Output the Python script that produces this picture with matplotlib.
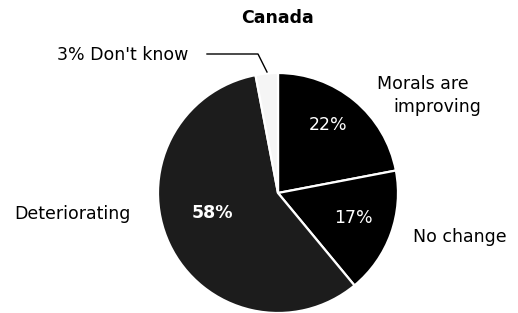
import matplotlib
matplotlib.use("Agg")
import matplotlib.pyplot as plt

# data (clockwise from 12 o'clock)
labels = ["Morals are\nimproving", "No change", "Deteriorating", "Don't know"]
values = [22, 17, 58, 3]
colors = ["#000000", "#000000", "#1c1c1c", "#f5f5f5"]

W, H = 518, 313
fig = plt.figure(figsize=(W / 100, H / 100), dpi=100)
ax = fig.add_axes([0, 0, 1, 1])

cx, cy, r = 278, H - 193, 120
wedges, _ = ax.pie(values, colors=colors, startangle=90, counterclock=False,
                   center=(cx, cy), radius=r, frame=True,
                   wedgeprops=dict(edgecolor="white", linewidth=1.6))
ax.set_xlim(0, W)
ax.set_ylim(0, H)
ax.set_aspect("equal")
ax.axis("off")

font = "DejaVu Sans"
ax.text(277, H - 18, "Canada", ha="center", va="center", fontsize=12.5,
        fontweight="bold", family=font)

# percentages inside the slices
ax.text(328, H - 125, f"{values[0]}%", color="white", ha="center", va="center", fontsize=12.5, family=font)
ax.text(353, H - 218, f"{values[1]}%", color="white", ha="center", va="center", fontsize=12.5, family=font)
ax.text(212, H - 213, f"{values[2]}%", color="white", ha="center", va="center", fontsize=12.5,
        fontweight="bold", family=font)

# outside labels
ax.text(423, H - 84, "Morals are", ha="center", va="center", fontsize=12.5, family=font)
ax.text(437, H - 107, "improving", ha="center", va="center", fontsize=12.5, family=font)
ax.text(460, H - 237, labels[1], ha="center", va="center", fontsize=12.5, family=font)
ax.text(72, H - 214, labels[2], ha="center", va="center", fontsize=12.5, family=font)
ax.text(123, H - 55, f"{values[3]}% Don't know", ha="center", va="center", fontsize=12.5, family=font)

# leader line to the small slice
ax.plot([207, 258, 267], [H - 54, H - 54, H - 72], color="black", lw=1.0)

fig.savefig("out.png", dpi=100)
